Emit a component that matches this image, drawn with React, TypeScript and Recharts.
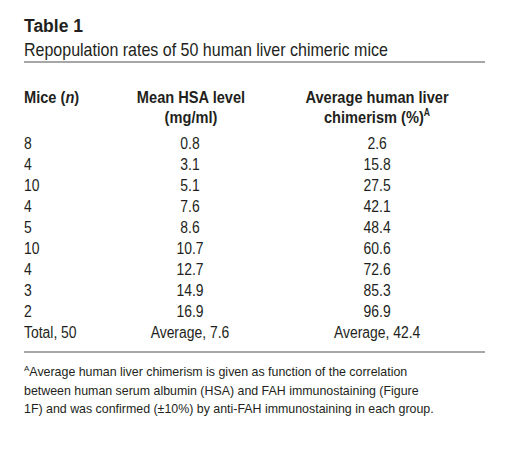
import React from 'react';
import { ScatterChart, Scatter, XAxis, YAxis, ReferenceLine, Customized } from 'recharts';

// ---- data ----
const miceCounts = [8, 4, 10, 4, 5, 10, 4, 3, 2];
const hsaLevels = [0.8, 3.1, 5.1, 7.6, 8.6, 10.7, 12.7, 14.9, 16.9];
const chimerism = [2.6, 15.8, 27.5, 42.1, 48.4, 60.6, 72.6, 85.3, 96.9];
const totalMice = 50;
const averageHsa = 7.6;
const averageChimerism = 42.4;

const title = 'Table 1';
const subtitle = 'Repopulation rates of 50 human liver chimeric mice';
const footnoteLines = [
  'Average human liver chimerism is given as function of the correlation',
  'between human serum albumin (HSA) and FAH immunostaining (Figure',
  '1F) and was confirmed (±10%) by anti-FAH immunostaining in each group.',
];

// ---- layout ----
const W = 509;
const H = 468;
const ROW0 = 149; // baseline of first data row (px)
const ROWH = 21;
const COLS = [0, 0.36, 0.766];
const ANCHORS: ('start' | 'middle')[] = ['start', 'middle', 'middle'];
const FONT = "'Liberation Sans', Arial, Helvetica, sans-serif";
const TEXT = '#231f20';
const RULE = '#a6a6a6';

const rowOf = (px: number) => (px - ROW0) / ROWH;

const col0 = [...miceCounts.map((m, i) => ({ x: COLS[0], y: i, label: String(m) })),
  { x: COLS[0], y: miceCounts.length, label: `Total, ${totalMice}` }];
const col1 = [...hsaLevels.map((v, i) => ({ x: COLS[1], y: i, label: v.toFixed(1) })),
  { x: COLS[1], y: hsaLevels.length, label: `Average, ${averageHsa.toFixed(1)}` }];
const col2 = [...chimerism.map((v, i) => ({ x: COLS[2], y: i, label: v.toFixed(1) })),
  { x: COLS[2], y: chimerism.length, label: `Average, ${averageChimerism.toFixed(1)}` }];

type NarrowProps = {
  x: number; y: number; anchor?: 'start' | 'middle'; size: number; scale: number; bold?: boolean;
  children: React.ReactNode;
};
const Narrow = ({ x, y, anchor = 'start', size, scale, bold, children }: NarrowProps) => (
  <g transform={`translate(${x},${y}) scale(${scale},1)`}>
    <text x={0} y={0} textAnchor={anchor} fontFamily={FONT} fontSize={size}
      fontWeight={bold ? 'bold' : 'normal'} fill={TEXT}>
      {children}
    </text>
  </g>
);

const makeCell = (anchor: 'start' | 'middle') => (props: any) => (
  <Narrow x={props.cx} y={props.cy} anchor={anchor} size={16} scale={0.87}>{props.payload.label}</Narrow>
);

const HS = 17;
const HSC = 0.86;

const Decor = () => (
  <g>
    <text x={24} y={32} fontFamily={FONT} fontWeight="bold" fontSize={17.5} fill={TEXT}>{title}</text>
    <Narrow x={24} y={56} size={17.5} scale={0.915}>{subtitle}</Narrow>
    <Narrow x={24} y={103} size={HS} scale={HSC} bold>Mice (<tspan fontStyle="italic">n</tspan>)</Narrow>
    <Narrow x={191} y={103} size={HS} scale={HSC} bold anchor="middle">Mean HSA level</Narrow>
    <Narrow x={191} y={123} size={HS} scale={HSC} bold anchor="middle">(mg/ml)</Narrow>
    <Narrow x={377} y={103} size={HS} scale={HSC} bold anchor="middle">Average human liver</Narrow>
    <Narrow x={377} y={123} size={HS} scale={HSC} bold anchor="middle">
      chimerism (%)<tspan fontSize={10} dy={-7}>A</tspan>
    </Narrow>
    <g fontFamily={FONT} fontSize={12.4} fill={TEXT}>
      {footnoteLines.map((line, i) => (
        <text key={i} x={24} y={376 + i * 18.5}>
          {i === 0 ? (
            <>
              <tspan fontSize={8} dy={-5}>A</tspan>
              <tspan dy={5}>{line}</tspan>
            </>
          ) : line}
        </text>
      ))}
    </g>
  </g>
);

export default function App() {
  return (
    <div style={{ position: 'absolute', left: 0, top: 0, width: W, height: H, background: '#fff' }}>
      <ScatterChart width={W} height={H} margin={{ top: 0, right: 24, bottom: 0, left: 24 }}>
        <XAxis type="number" dataKey="x" domain={[0, 1]} allowDataOverflow hide />
        <YAxis type="number" dataKey="y" domain={[rowOf(0), rowOf(H)]} allowDataOverflow reversed hide />
        <ReferenceLine y={rowOf(62)} stroke={RULE} strokeWidth={2} ifOverflow="visible" />
        <ReferenceLine y={rowOf(352)} stroke={RULE} strokeWidth={2} ifOverflow="visible" />
        <Scatter data={col0} shape={makeCell(ANCHORS[0])} isAnimationActive={false} />
        <Scatter data={col1} shape={makeCell(ANCHORS[1])} isAnimationActive={false} />
        <Scatter data={col2} shape={makeCell(ANCHORS[2])} isAnimationActive={false} />
        <Customized component={Decor} />
      </ScatterChart>
    </div>
  );
}
